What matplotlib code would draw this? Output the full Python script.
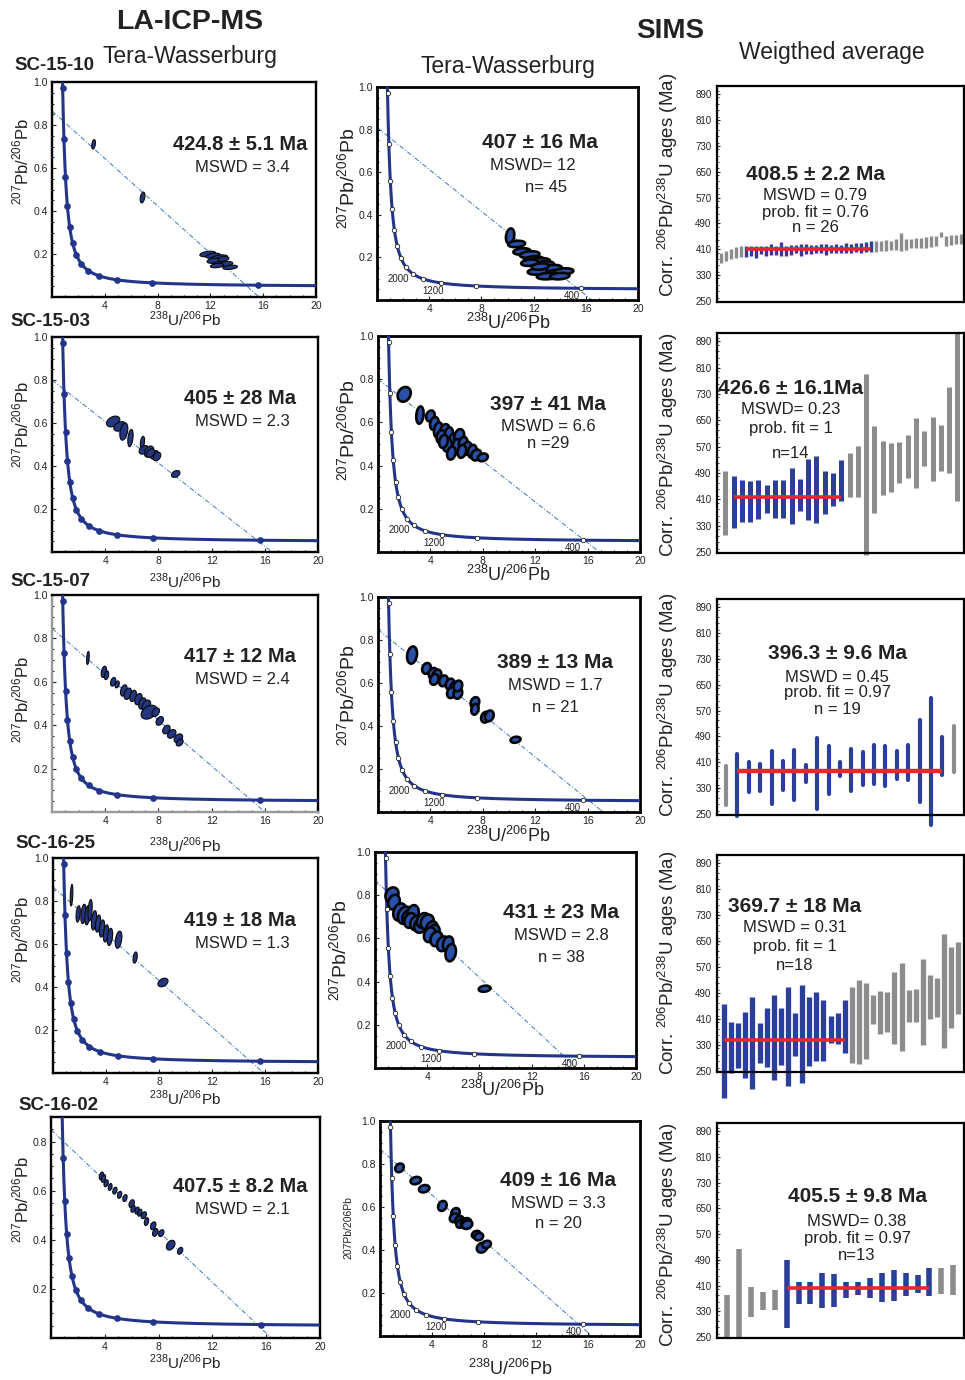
import numpy as np
import matplotlib
matplotlib.use("Agg")
import matplotlib.pyplot as plt
from matplotlib.ticker import MultipleLocator

plt.rcParams['font.family'] = ['Liberation Sans', 'DejaVu Sans']
plt.rcParams['mathtext.fontset'] = 'custom'
plt.rcParams['mathtext.rm'] = 'Liberation Sans'
plt.rcParams['mathtext.bf'] = 'Liberation Sans:bold'

# ---------------- data ----------------
samples = ["SC-15-10", "SC-15-03", "SC-15-07", "SC-16-25", "SC-16-02"]

# LA-ICP-MS Tera-Wasserburg spots (238U/206Pb, 207Pb/206Pb, half axes)
la_x = [
    [3.15, 6.86, 11.8, 12.2, 12.7, 12.6, 13.1, 13.5, 12.5, 12.9, 12.2],
    [4.6, 5.1, 5.4, 5.9, 6.8, 6.9, 7.3, 7.7, 7.9, 7.4, 9.3],
    [2.7, 3.9, 4.1, 4.6, 4.9, 5.4, 5.7, 6.1, 6.5, 6.8, 7.1, 7.3, 7.8, 8.1, 8.6, 9.0, 9.5, 9.6],
    [1.4, 1.9, 2.3, 2.6, 2.8, 3.1, 3.4, 3.7, 4.0, 4.3, 4.95, 6.2, 8.3],
    [3.75, 3.9, 4.1, 4.4, 4.75, 5.1, 5.5, 6.0, 6.1, 6.4, 6.6, 6.9, 7.1, 7.6, 7.75, 8.2, 8.9, 9.6],
]
la_y = [
    [0.71, 0.463, 0.200, 0.192, 0.184, 0.166, 0.153, 0.138, 0.146, 0.176, 0.169],
    [0.607, 0.584, 0.56, 0.53, 0.51, 0.475, 0.467, 0.452, 0.444, 0.46, 0.363],
    [0.71, 0.646, 0.63, 0.60, 0.588, 0.56, 0.545, 0.535, 0.52, 0.50, 0.49, 0.46, 0.46, 0.42, 0.38, 0.36, 0.34, 0.32],
    [0.827, 0.74, 0.74, 0.734, 0.757, 0.71, 0.695, 0.672, 0.649, 0.633, 0.62, 0.537, 0.421],
    [0.66, 0.65, 0.63, 0.615, 0.60, 0.583, 0.57, 0.547, 0.526, 0.519, 0.51, 0.50, 0.474, 0.457, 0.43, 0.427, 0.378, 0.355],
]
la_sx = [
    [0.14, 0.18, 0.6, 0.55, 0.6, 0.55, 0.6, 0.55, 0.5, 0.5, 0.45],
    [0.5, 0.45, 0.3, 0.2, 0.16, 0.35, 0.35, 0.3, 0.28, 0.3, 0.32],
    [0.1, 0.2, 0.16, 0.2, 0.16, 0.25, 0.28, 0.25, 0.28, 0.28, 0.32, 0.6, 0.28, 0.28, 0.28, 0.32, 0.32, 0.26],
    [0.1, 0.16, 0.2, 0.2, 0.16, 0.2, 0.2, 0.2, 0.2, 0.2, 0.25, 0.16, 0.38],
    [0.16, 0.16, 0.16, 0.14, 0.16, 0.16, 0.16, 0.2, 0.16, 0.16, 0.16, 0.2, 0.16, 0.2, 0.2, 0.2, 0.32, 0.2],
]
la_sy = [
    [0.022, 0.025, 0.013, 0.012, 0.012, 0.012, 0.012, 0.01, 0.01, 0.012, 0.012],
    [0.025, 0.022, 0.04, 0.04, 0.028, 0.02, 0.026, 0.02, 0.02, 0.02, 0.016],
    [0.03, 0.026, 0.02, 0.02, 0.016, 0.026, 0.026, 0.026, 0.026, 0.026, 0.026, 0.032, 0.02, 0.02, 0.02, 0.02, 0.02, 0.016],
    [0.05, 0.038, 0.045, 0.045, 0.05, 0.045, 0.04, 0.04, 0.04, 0.04, 0.04, 0.026, 0.02],
    [0.016, 0.016, 0.014, 0.014, 0.014, 0.014, 0.014, 0.016, 0.014, 0.014, 0.014, 0.014, 0.016, 0.016, 0.016, 0.014, 0.02, 0.014],
]
la_y0 = [0.865, 0.80, 0.846, 0.865, 0.848]
la_lower = [424.8, 405, 417, 419, 407.5]
la_age = ["424.8 ± 5.1 Ma", "405 ± 28 Ma", "417 ± 12 Ma", "419 ± 18 Ma", "407.5 ± 8.2 Ma"]
la_mswd = ["MSWD = 3.4", "MSWD = 2.3", "MSWD = 2.4", "MSWD = 1.3", "MSWD = 2.1"]
la_ymax = [1.0, 1.0, 1.0, 1.0, 0.9]

# SIMS Tera-Wasserburg spots
sims_x = [
    [10.2, 10.7, 11.1, 11.7, 12.0, 12.4, 12.8, 11.7, 13.0, 13.4, 13.8, 14.3, 12.3, 13.1, 14.0, 12.5],
    [2.0, 3.2, 4.0, 4.3, 4.6, 5.1, 5.4, 4.8, 5.7, 6.2, 6.0, 5.3, 6.5, 6.8, 7.2, 6.4, 7.5, 8.0, 5.6, 5.0],
    [2.6, 3.7, 4.2, 4.5, 4.3, 5.0, 5.5, 5.8, 5.6, 6.1, 6.1, 7.4, 7.4, 8.2, 8.5, 10.5],
    [1.3, 1.45, 1.9, 2.3, 2.6, 2.9, 2.7, 3.2, 3.5, 3.7, 4.0, 4.35, 4.5, 4.2, 4.7, 5.2, 5.6, 5.8, 8.4],
    [1.5, 2.75, 3.4, 4.8, 5.8, 5.7, 6.1, 6.2, 6.6, 6.7, 7.4, 7.6, 7.85, 8.2],
]
sims_y = [
    [0.30, 0.263, 0.228, 0.213, 0.19, 0.182, 0.167, 0.175, 0.143, 0.15, 0.127, 0.134, 0.134, 0.112, 0.112, 0.157],
    [0.73, 0.634, 0.63, 0.595, 0.565, 0.557, 0.542, 0.534, 0.512, 0.534, 0.488, 0.495, 0.503, 0.48, 0.466, 0.466, 0.449, 0.438, 0.458, 0.512],
    [0.73, 0.668, 0.645, 0.637, 0.617, 0.61, 0.595, 0.575, 0.555, 0.552, 0.586, 0.509, 0.478, 0.441, 0.447, 0.336],
    [0.802, 0.768, 0.722, 0.707, 0.699, 0.714, 0.683, 0.672, 0.66, 0.683, 0.676, 0.645, 0.629, 0.617, 0.598, 0.575, 0.575, 0.534, 0.367],
    [0.782, 0.723, 0.685, 0.605, 0.572, 0.55, 0.538, 0.523, 0.528, 0.518, 0.472, 0.462, 0.411, 0.426],
]
sims_sx = [
    [0.32, 0.65, 0.65, 0.75, 0.75, 0.85, 0.75, 0.65, 0.85, 0.75, 0.85, 0.75, 0.75, 0.85, 0.75, 0.65],
    [0.5, 0.28, 0.33, 0.33, 0.33, 0.38, 0.33, 0.33, 0.33, 0.38, 0.33, 0.33, 0.33, 0.33, 0.33, 0.33, 0.38, 0.38, 0.33, 0.33],
    [0.38, 0.33, 0.33, 0.33, 0.33, 0.33, 0.33, 0.33, 0.33, 0.33, 0.33, 0.33, 0.28, 0.33, 0.33, 0.38],
    [0.5, 0.45, 0.5, 0.55, 0.5, 0.45, 0.45, 0.5, 0.5, 0.5, 0.5, 0.45, 0.45, 0.45, 0.45, 0.45, 0.4, 0.4, 0.45],
    [0.33, 0.4, 0.4, 0.33, 0.33, 0.33, 0.33, 0.33, 0.4, 0.4, 0.33, 0.33, 0.4, 0.33],
]
sims_sy = [
    [0.036, 0.015, 0.015, 0.016, 0.015, 0.015, 0.015, 0.015, 0.015, 0.015, 0.015, 0.015, 0.015, 0.015, 0.015, 0.015],
    [0.034, 0.04, 0.025, 0.03, 0.035, 0.035, 0.035, 0.03, 0.035, 0.035, 0.035, 0.03, 0.03, 0.03, 0.03, 0.03, 0.025, 0.018, 0.03, 0.03],
    [0.04, 0.025, 0.025, 0.025, 0.025, 0.025, 0.025, 0.03, 0.025, 0.025, 0.025, 0.025, 0.025, 0.025, 0.025, 0.014],
    [0.034, 0.034, 0.04, 0.04, 0.034, 0.04, 0.034, 0.034, 0.034, 0.034, 0.034, 0.034, 0.034, 0.034, 0.034, 0.034, 0.034, 0.04, 0.014],
    [0.02, 0.017, 0.017, 0.023, 0.023, 0.02, 0.02, 0.02, 0.02, 0.02, 0.017, 0.017, 0.023, 0.017],
]
sims_y0 = [0.81, 0.80, 0.849, 0.869, 0.869]
sims_lower = [407, 397, 389, 431, 409]
sims_age = ["407 ± 16 Ma", "397 ± 41 Ma", "389 ± 13 Ma", "431 ± 23 Ma", "409 ± 16 Ma"]
sims_mswd = ["MSWD= 12", "MSWD = 6.6", "MSWD = 1.7", "MSWD = 2.8", "MSWD = 3.3"]
sims_n = ["n= 45", "n =29", "n = 21", "n = 38", "n = 20"]

# concordia marker ages (Ma) and labelled ones on SIMS panels
conc_marks = [400, 800, 1200, 1600, 2000, 2400, 2800, 3200, 3600, 4000, 4400, 4800, 5200]
conc_labels = ["2000", "1200", "400"]
conc_label_xy = [(1.6, 0.10), (4.3, 0.04), (14.9, 0.02)]

# SIMS weighted average: 206Pb/238U ages (Ma) and 2s errors
wa_age = [
    [383, 390, 395, 399, 403,
     403, 405, 402, 407, 404, 409, 406, 411, 405, 408, 410, 407, 411, 409, 410, 412, 409, 411, 413, 411, 414, 412, 415, 414, 417, 419,
     419, 421, 423, 422, 425, 432, 426, 428, 430, 429, 432, 434, 435, 457, 436, 439, 440, 442],
    [399,
     402, 405, 403, 410, 410, 411, 411, 420, 424, 440, 440, 430, 441, 466,
     484, 495, 515, 500, 505, 506, 521, 541, 550, 564, 563, 565, 620, 660],
    [337,
     340, 364, 363, 364, 370, 370, 375, 375, 386, 389, 387, 390, 404, 398, 402, 408, 414, 412, 429,
     451],
    [312, 322, 328, 331, 336, 336, 353, 354, 356, 356, 363, 364, 371, 387, 375, 377, 381, 387,
     392, 402, 403, 440, 430, 432, 444, 447, 450, 452, 462, 478, 477, 496, 508, 537],
    [314, 386, 360, 362, 365,
     383, 386, 387, 395, 395, 396, 400, 401, 404, 410, 413, 416, 420,
     425, 427],
]
wa_err = [
    [15, 16, 15, 17, 16,
     17, 15, 18, 13, 16, 17, 15, 22, 16, 15, 13, 18, 15, 13, 12, 15, 16, 13, 13, 12, 15, 13, 13, 15, 16, 17,
     17, 16, 17, 15, 16, 28, 17, 15, 16, 15, 17, 16, 15, 8, 16, 15, 13, 16],
    [97,
     80, 64, 63, 60, 43, 57, 57, 84, 48, 93, 103, 65, 50, 62,
     66, 77, 275, 133, 82, 75, 62, 65, 106, 54, 98, 70, 130, 255],
    [60,
     96, 47, 43, 82, 45, 77, 26, 110, 73, 22, 65, 51, 60, 61, 43, 54, 126, 196, 59,
     72],
    [144, 78, 70, 102, 142, 62, 92, 131, 87, 152, 66, 152, 107, 107, 94, 41, 47, 81,
     118, 129, 117, 44, 65, 62, 110, 134, 49, 51, 133, 68, 60, 176, 125, 110],
    [66, 138, 47, 28, 31,
     106, 34, 34, 55, 52, 25, 20, 31, 45, 47, 36, 28, 43,
     40, 47],
]
wa_used = [(5, 30), (1, 14), (1, 19), (0, 17), (5, 17)]   # first/last index of accepted spots
wa_line = [410, 417, 383, 344, 401]                       # red mean line level as drawn
wa_title = ["408.5 ± 2.2 Ma", "426.6 ± 16.1Ma", "396.3 ± 9.6 Ma", "369.7 ± 18 Ma", "405.5 ± 9.8 Ma"]
wa_mswd = ["MSWD = 0.79", "MSWD= 0.23", "MSWD = 0.45", "MSWD = 0.31", "MSWD= 0.38"]
wa_prob = ["prob. fit = 0.76", "prob. fit = 1", "prob. fit = 0.97", "prob. fit = 1", "prob. fit = 0.97"]
wa_n = ["n = 26", "n=14", "n = 19", "n=18", "n=13"]
wa_ticks = [250, 330, 410, 490, 570, 650, 730, 810, 890]

# ---------------- layout (pixel boxes: left, top, right, bottom) ----------------
W, H = 965, 1380
la_box = [(52, 82, 316, 297), (52, 337, 318, 552), (52, 595, 318, 812), (53, 858, 318, 1073), (51, 1117, 320, 1338)]
sims_box = [(377, 87, 638, 300), (378, 336, 640, 552), (378, 597, 640, 812), (375, 852, 636, 1068), (380, 1121, 640, 1336)]
wa_box = [(717, 86, 964, 302), (717, 333, 964, 553), (717, 599, 964, 815), (717, 855, 964, 1072), (717, 1123, 964, 1338)]
wa_xlim = [(-0.8, 48.6), (-1.0, 28.8), (-0.8, 20.9), (-1.0, 33.8), (-0.85, 19.9)]
wa_lw = [2.4, 3.6, 3.0, 3.8, 4.0]

NAVY = "#22358a"
BLUE = "#2b3f9a"
GRAY = "#8a8c8e"
RED = "#e8262b"
DISC = "#3f74c8"

fig = plt.figure(figsize=(W / 100, H / 100), dpi=100)


def box(b):
    l, t, r, bt = b
    return [l / W, 1 - bt / H, (r - l) / W, (bt - t) / H]


def ftext(x, y, s, **kw):
    kw.setdefault("ha", "center")
    kw.setdefault("va", "center")
    fig.text(x / W, 1 - y / H, s, **kw)


L238, L235, U85 = 1.55125e-4, 9.8485e-4, 137.88


def tw(age):
    age = np.asarray(age, dtype=float)
    e8 = np.expm1(L238 * age)
    e5 = np.expm1(L235 * age)
    return 1 / e8, e5 / e8 / U85


# concordia curve from the decay equations, marker ages from the list above
conc_t = np.linspace(300, 5800, 600)
cx, cy = tw(conc_t)
mx, my = tw(conc_marks)


def ellipse(ax, x, y, sx, sy, rho, fc, ec, lw):
    t = np.linspace(0, 2 * np.pi, 60)
    ex = x + sx * np.cos(t)
    ey = y + sy * (rho * np.cos(t) + np.sqrt(1 - rho ** 2) * np.sin(t))
    ax.fill(ex, ey, facecolor=fc, edgecolor=ec, lw=lw, zorder=4)


def tw_axes(ax, ymax, spine_lw):
    ax.set_xlim(0, 20)
    ax.set_ylim(0, ymax)
    ax.xaxis.set_minor_locator(MultipleLocator(1))
    ax.yaxis.set_minor_locator(MultipleLocator(0.05))
    ax.set_xticks([4, 8, 12, 16, 20])
    yt = [v for v in [0.2, 0.4, 0.6, 0.8, 1.0] if v <= ymax + 1e-9]
    ax.set_yticks(yt)
    ax.set_yticklabels(["%.1f" % v for v in yt])
    ax.tick_params(which="both", direction="in", labelsize=7.5, colors="#222", pad=3)
    ax.tick_params(which="major", length=3, width=0.8)
    ax.tick_params(which="minor", length=1.5, width=0.8)
    for s in ax.spines.values():
        s.set_linewidth(spine_lw)


def discordia(ax, y0, lower):
    xl, yl = tw(lower)
    slope = (yl - y0) / xl
    ax.plot([0, 22], [y0, y0 + slope * 22], color=DISC, lw=0.7,
            ls=(0, (5, 2, 1, 2)), zorder=2)


# ---------------- LA-ICP-MS column ----------------
for i in range(5):
    ax = fig.add_axes(box(la_box[i]))
    tw_axes(ax, la_ymax[i], 1.7)
    if i == 2:
        ax.spines["left"].set_color("#999")
        ax.spines["bottom"].set_color("#999")
    discordia(ax, la_y0[i], la_lower[i])
    ax.plot(cx, cy, color=NAVY, lw=2.2, zorder=3)
    ax.plot(mx, my, "o", color=NAVY, ms=3.8, zorder=3)
    for x, y, sx, sy in zip(la_x[i], la_y[i], la_sx[i], la_sy[i]):
        ellipse(ax, x, y, sx, sy, 0.35, "#233680", "#0a0a0a", 0.8)
    l, t, r, b = la_box[i]
    ytxt = t + (62 if i < 4 else 70)
    ftext(240, ytxt, la_age[i], fontsize=14.5, fontweight="bold", color="#222")
    ftext(242, ytxt + 23, la_mswd[i], fontsize=12, color="#222")

# ---------------- SIMS TW column ----------------
for i in range(5):
    ax = fig.add_axes(box(sims_box[i]))
    tw_axes(ax, 1.0, 2.0)
    discordia(ax, sims_y0[i], sims_lower[i])
    ax.plot(cx, cy, color=NAVY, lw=2.2, zorder=3)
    ax.plot(mx, my, "o", mfc="white", mec="#222", mew=0.6, ms=3.2, zorder=5)
    for s, (lx, ly) in zip(conc_labels, conc_label_xy):
        ax.text(lx, ly, s, fontsize=7, color="#222", ha="center", va="center", zorder=6)
    for x, y, sx, sy in zip(sims_x[i], sims_y[i], sims_sx[i], sims_sy[i]):
        ellipse(ax, x, y, sx, sy, 0.2, "#2a4fa6", "#050505", 1.9)

sims_txt_xy = [(540, 143), (548, 404), (555, 663), (561, 913), (558, 1180)]
for i in range(5):
    x, y = sims_txt_xy[i]
    ftext(x, y, sims_age[i], fontsize=15, fontweight="bold", color="#222")
    ftext(x - (7 if i == 0 else 0), y + 23, sims_mswd[i], fontsize=12, color="#222")
    ftext(x + (6 if i == 0 else 0), y + 44 if i != 1 else y + 40, sims_n[i], fontsize=12, color="#222")

# ---------------- weighted average column ----------------
wa_txt_xy = [(815, 175), (791, 389), (837, 654), (795, 907), (857, 1196)]
for i in range(5):
    ax = fig.add_axes(box(wa_box[i]))
    ages = np.array(wa_age[i])
    errs = np.array(wa_err[i])
    idx = np.arange(len(ages))
    a, b = wa_used[i]
    used = (idx >= a) & (idx <= b)
    cap = "round" if i == 2 else "butt"
    ax.vlines(idx[~used], ages[~used] - errs[~used], ages[~used] + errs[~used],
              color=GRAY, lw=wa_lw[i], capstyle=cap, clip_on=False, zorder=2)
    ax.vlines(idx[used], ages[used] - errs[used], ages[used] + errs[used],
              color=BLUE, lw=wa_lw[i], capstyle=cap, clip_on=False, zorder=2)
    ax.hlines(wa_line[i], a, b, color=RED, lw=2.6 if i != 2 else 3.2, zorder=3)
    ax.set_xlim(*wa_xlim[i])
    ax.set_ylim(247, 915)
    ax.set_xticks([])
    ax.set_yticks(wa_ticks)
    ax.yaxis.set_minor_locator(MultipleLocator(20))
    ax.tick_params(which="both", direction="in", labelsize=7, colors="#222", pad=4)
    ax.tick_params(which="major", length=2.5)
    ax.tick_params(which="minor", length=1.5)
    for s in ax.spines.values():
        s.set_linewidth(1.6)
    ax.patch.set_alpha(0)

    x, y = wa_txt_xy[i]
    ftext(x, y, wa_title[i], fontsize=15, fontweight="bold", color="#222")
    gaps = [(21, 37, 53), (20, 39, 65), (23, 39, 56), (20, 39, 58), (25, 42, 60)][i]
    ftext(x, y + gaps[0], wa_mswd[i], fontsize=12, color="#222")
    ftext(x, y + gaps[1], wa_prob[i], fontsize=12, color="#222")
    ftext(x, y + gaps[2], wa_n[i], fontsize=12, color="#222")

# ---------------- axis labels and titles ----------------
pb76 = r"$^{207}$Pb/$^{206}$Pb"
u86 = r"$^{238}$U/$^{206}$Pb"
corr = r"Corr. $^{206}$Pb/$^{238}$U ages (Ma)"

la_ylab_y = [162, 425, 700, 940, 1200]
la_xlab_y = [319, 581, 845, 1098, 1362]
sims_ylab = [(348, 178), (348, 430), (348, 695), (340, 950), (348, 1228)]
sims_xlab = [(508, 323), (508, 575), (508, 836), (502, 1090), (510, 1369)]
wa_ylab_y = [185, 445, 705, 963, 1235]

for i in range(5):
    ftext(21, la_ylab_y[i], pb76, fontsize=12, rotation=90, color="#222")
    ftext(185, la_xlab_y[i], u86, fontsize=11, color="#222")
    sx_, sy_ = sims_ylab[i]
    if i < 4:
        ftext(sx_, sy_, pb76, fontsize=14, rotation=90, color="#222")
    else:
        ftext(sx_, sy_, "207Pb/206Pb", fontsize=7.5, rotation=90, color="#222")
    ftext(sims_xlab[i][0], sims_xlab[i][1], u86, fontsize=13, color="#222")
    ftext(668, wa_ylab_y[i], corr, fontsize=13.5, rotation=90, color="#222")

sample_xy = [(14, 66), (10, 322), (10, 581), (15, 843), (18, 1106)]
for s, (x, y) in zip(samples, sample_xy):
    ftext(x, y, s, fontsize=13.5, fontweight="bold", ha="left", color="#222")

ftext(190, 22, "LA-ICP-MS", fontsize=20.5, fontweight="bold", color="#222")
ftext(190, 57, "Tera-Wasserburg", fontsize=16.5, color="#222")
ftext(670, 31, "SIMS", fontsize=20, fontweight="bold", color="#222")
ftext(508, 67, "Tera-Wasserburg", fontsize=16.5, color="#222")
ftext(832, 52, "Weigthed average", fontsize=16.5, color="#222")

fig.savefig("out.png", dpi=100)
